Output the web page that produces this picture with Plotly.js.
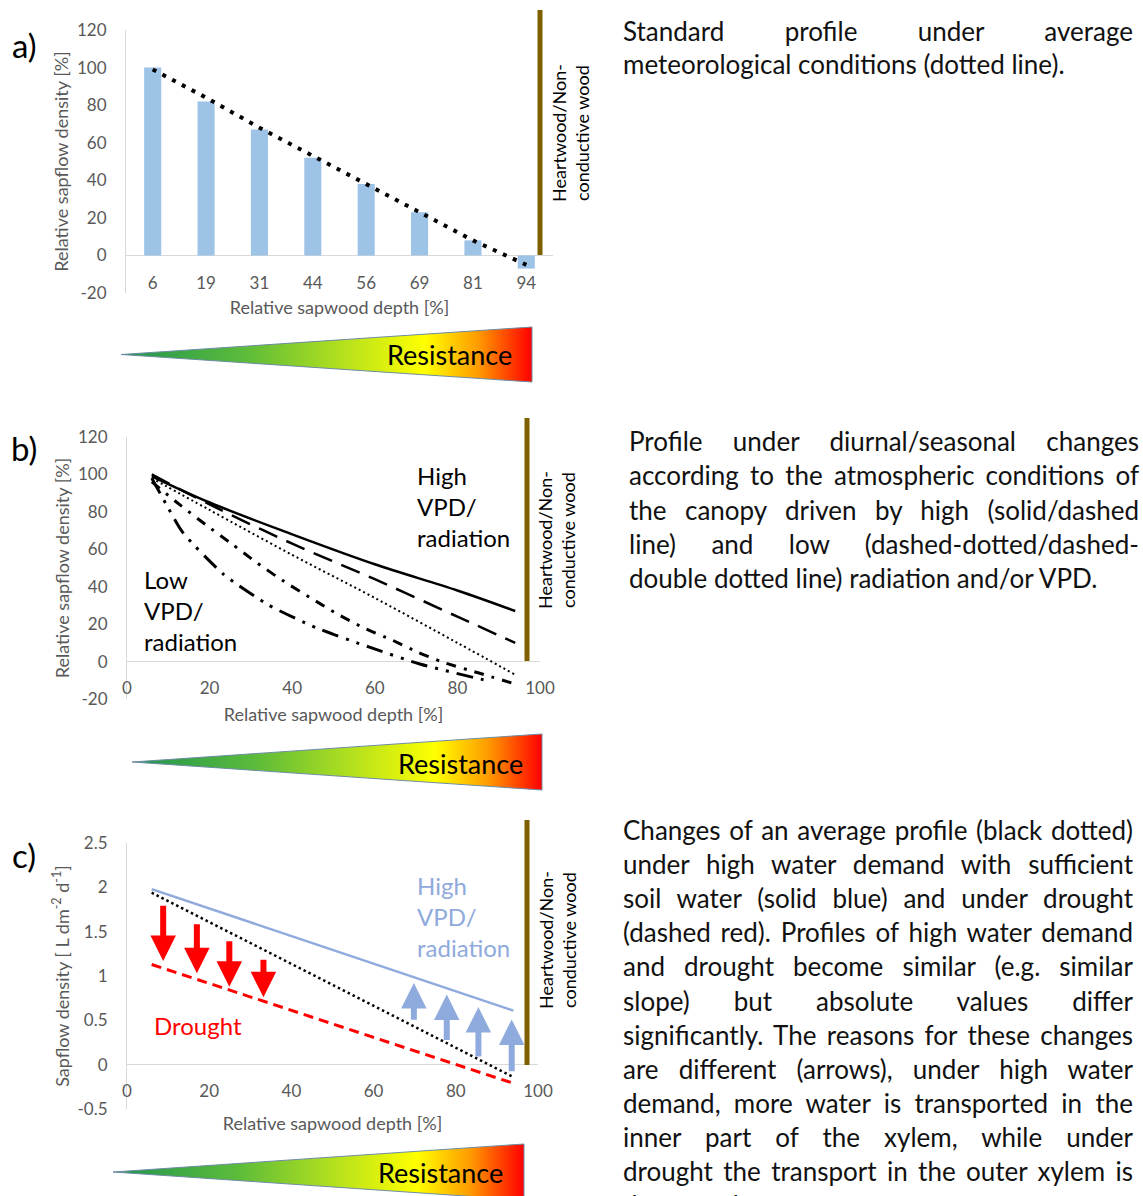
<!DOCTYPE html>
<html><head><meta charset="utf-8">
<script src="https://cdn.plot.ly/plotly-3.0.1.min.js"></script>
<style>
html,body{margin:0;padding:0;background:#fff;overflow:hidden;}
#wrap{position:relative;width:1143px;height:1196px;overflow:hidden;}
#chart{position:absolute;left:0;top:0;width:1143px;height:1196px;}
.ln{position:absolute;font-family:Lato,'Noto Sans',sans-serif;font-size:26px;color:#111;line-height:32px;height:32px;white-space:nowrap;}
.j{text-align:justify;text-align-last:justify;}
</style></head><body>
<div id="wrap"><div id="chart"></div><div id="txt"></div></div>
<script>
// ---------- DATA ----------
// Panel a
const depthCatsA = ['6','19','31','44','56','69','81','94'];
const barValuesA = [100, 82, 67, 52, 38, 23, 8, -7];
const dottedA    = [99, 84, 68, 53, 38, 23, 8, -5];
const yTickValsAB = [-20, 0, 20, 40, 60, 80, 100, 120];
const yTickTextAB = ['-20','0','20','40','60','80','100','120'];

// Panel b
const depthB_solid = [6, 20, 40, 60, 80, 94];
const solidB       = [99, 85, 68, 52, 38, 27];
const depthB_dash  = [6, 20, 40, 60, 80, 94];
const dashB        = [100, 84, 63, 44, 24, 10];
const depthB_dot   = [6, 20, 40, 60, 80, 94];
const dotB         = [98, 81, 57, 34, 10, -7];
const depthB_dd1   = [6, 12.9, 19.2, 25.6, 31.5, 37.9, 44.4, 50.8, 57.3, 64.1, 70.6, 76.6, 85, 94];
const dashDotB     = [96, 83.6, 72.9, 62.5, 52.7, 43, 34.1, 25.6, 18, 11.6, 4.8, -0.4, -6, -12];
const depthB_dd2   = [6, 10, 13.5, 23.4, 34.3, 45.9, 58.7, 70.9, 84.7, 87];
const dashDDotB    = [98, 82, 69, 46.6, 30.2, 18, 7.7, -1.3, -8.9, -10];
const xTickValsBC  = [0, 20, 40, 60, 80, 100];
const xTickTextBC  = ['0','20','40','60','80','100'];

// Panel c
const depthC   = [6, 94];
const blueC    = [1.98, 0.61];
const dottedC  = [1.94, -0.14];
const redC     = [1.13, -0.21];
const redArrowX    = [8.8, 17, 24.9, 33.2];
const redArrowFrom = [1.81, 1.60, 1.41, 1.20];
const redArrowTo   = [1.17, 1.03, 0.88, 0.76];
const blueArrowX    = [69.8, 77.8, 85.5, 93.6];
const blueArrowFrom = [0.49, 0.26, 0.075, -0.09];
const blueArrowTo   = [0.92, 0.79, 0.65, 0.51];
const yTickValsC = [-0.5, 0, 0.5, 1, 1.5, 2, 2.5];
const yTickTextC = ['-0.5','0','0.5','1','1.5','2','2.5'];

// Text paragraphs
const textA = ['Standard profile under average', 'meteorological conditions (dotted line).'];
const textB = ['Profile under diurnal/seasonal changes',
  'according to the atmospheric conditions of',
  'the canopy driven by high (solid/dashed',
  'line) and low (dashed-dotted/dashed-',
  'double dotted line) radiation and/or VPD.'];
const textC = ['Changes of an average profile (black dotted)',
  'under high water demand with sufficient',
  'soil water (solid blue) and  under drought',
  '(dashed red). Profiles of high water demand',
  'and drought become similar (e.g. similar',
  'slope) but absolute values differ',
  'significantly. The reasons for these changes',
  'are different (arrows), under high water',
  'demand, more water is transported in the',
  'inner part of the xylem, while under',
  'drought the transport in the outer xylem is',
  'decreased.'];

// ---------- LAYOUT HELPERS ----------
const W = 1143, H = 1196;
const px = x => x / W;
const py = y => 1 - y / H;
const FONT = 'Lato, "Noto Sans", sans-serif';
const GREY = '#595959';

const traces = [
  {type:'bar', x:depthCatsA, y:barValuesA, xaxis:'x', yaxis:'y', marker:{color:'#9dc3e6'}, hoverinfo:'skip'},
  {type:'scatter', mode:'lines', x:depthCatsA, y:dottedA, xaxis:'x', yaxis:'y', line:{color:'#000', width:4, dash:'4px,7px'}},

  {type:'scatter', mode:'lines', x:depthB_solid, y:solidB, xaxis:'x2', yaxis:'y2', line:{color:'#000', width:2.5, shape:'spline'}},
  {type:'scatter', mode:'lines', x:depthB_dash, y:dashB, xaxis:'x2', yaxis:'y2', line:{color:'#000', width:2.5, dash:'20px,10px', shape:'spline'}},
  {type:'scatter', mode:'lines', x:depthB_dot, y:dotB, xaxis:'x2', yaxis:'y2', line:{color:'#000', width:2, dash:'2px,3px', shape:'spline'}},
  {type:'scatter', mode:'lines', x:depthB_dd1, y:dashDotB, xaxis:'x2', yaxis:'y2', line:{color:'#000', width:3, dash:'10px,8px,3px,8px', shape:'spline', smoothing:0.6}},
  {type:'scatter', mode:'lines', x:depthB_dd2, y:dashDDotB, xaxis:'x2', yaxis:'y2', line:{color:'#000', width:3, dash:'17px,8px,3px,8px,3px,8px', shape:'spline', smoothing:0.6}},

  {type:'scatter', mode:'lines', x:depthC, y:blueC, xaxis:'x3', yaxis:'y3', line:{color:'#8faadc', width:2.5}},
  {type:'scatter', mode:'lines', x:depthC, y:dottedC, xaxis:'x3', yaxis:'y3', line:{color:'#000', width:2.5, dash:'2.5px,3px'}},
  {type:'scatter', mode:'lines', x:depthC, y:redC, xaxis:'x3', yaxis:'y3', line:{color:'#ff0000', width:3, dash:'10px,6px'}}
];

function yAxis(domTop, domBot, range, tv, tt, title, anchor){
  return {domain:[py(domBot), py(domTop)], range:range, anchor:anchor,
    tickvals:tv, ticktext:tt, ticks:'', ticklabelstandoff:15,
    tickfont:{family:FONT, size:17, color:GREY},
    showline:true, linecolor:'#d9d9d9', linewidth:1,
    zeroline:true, zerolinecolor:'#d9d9d9', zerolinewidth:1, showgrid:false,
    title:{text:title, font:{family:FONT, size:18, color:GREY}, standoff:3},
    automargin:false, fixedrange:true};
}
function xAxisFree(l, r, pos, standoff, extra){
  return Object.assign({domain:[px(l), px(r)], anchor:'free', position:py(pos),
    ticks:'', showline:false, zeroline:false, showgrid:false,
    tickfont:{family:FONT, size:17, color:GREY},
    title:{text:'Relative sapwood depth [%]', font:{family:FONT, size:18, color:GREY}, standoff:standoff},
    automargin:false, fixedrange:true}, extra);
}

const annotations = [];
function ann(text, x, y, size, color, opts){
  annotations.push(Object.assign({xref:'paper', yref:'paper', x:px(x), y:py(y), text:text,
    showarrow:false, font:{family:FONT, size:size, color:color}, xanchor:'center', yanchor:'middle'}, opts||{}));
}
ann('a)', 24, 45, 33, '#000');
ann('b)', 24, 448, 33, '#000');
ann('c)', 24, 855, 33, '#000');
ann('Heartwood/Non-<br>conductive wood', 571, 133, 18, '#000', {textangle:-90});
ann('Heartwood/Non-<br>conductive wood', 557, 540, 18, '#000', {textangle:-90});
ann('Heartwood/Non-<br>conductive wood', 557, 940, 18, '#000', {textangle:-90});
ann('High<br>VPD/<br>radiation', 415, 506, 24, '#000', {xanchor:'left', align:'left'});
ann('Low<br>VPD/<br>radiation', 142, 610, 24, '#000', {xanchor:'left', align:'left'});
ann('High<br>VPD/<br>radiation', 415, 916, 24, '#8faadc', {xanchor:'left', align:'left'});
ann('Drought', 152, 1025, 24, '#ff0000', {xanchor:'left'});
ann('Resistance', 449, 354, 27, '#000');
ann('Resistance', 460, 763, 27, '#000');
ann('Resistance', 440, 1172, 27, '#000');

for (let i = 0; i < redArrowX.length; i++) {
  annotations.push({xref:'x3', yref:'y3', axref:'x3', ayref:'y3', x:redArrowX[i], y:redArrowTo[i],
    ax:redArrowX[i], ay:redArrowFrom[i], text:'', showarrow:true, arrowhead:2, arrowsize:0.85, arrowwidth:6, arrowcolor:'#ff0000'});
}
for (let i = 0; i < blueArrowX.length; i++) {
  annotations.push({xref:'x3', yref:'y3', axref:'x3', ayref:'y3', x:blueArrowX[i], y:blueArrowTo[i],
    ax:blueArrowX[i], ay:blueArrowFrom[i], text:'', showarrow:true, arrowhead:2, arrowsize:0.85, arrowwidth:6, arrowcolor:'#8faadc'});
}

const shapes = [
  {type:'line', xref:'paper', yref:'paper', x0:px(540), x1:px(540), y0:py(10), y1:py(255), line:{color:'#7f6000', width:5}},
  {type:'line', xref:'paper', yref:'paper', x0:px(527), x1:px(527), y0:py(418), y1:py(661), line:{color:'#7f6000', width:5}},
  {type:'line', xref:'paper', yref:'paper', x0:px(527), x1:px(527), y0:py(820), y1:py(1065), line:{color:'#7f6000', width:5}}
];

function triSVG(w, h){
  const s = '<svg xmlns="http://www.w3.org/2000/svg" width="'+w+'" height="'+h+'" viewBox="0 0 '+w+' '+h+'" preserveAspectRatio="none">'+
    '<defs><linearGradient id="g" x1="0" y1="0" x2="1" y2="0">'+
    '<stop offset="0" stop-color="#1f9450"/><stop offset="0.3" stop-color="#5bbb3a"/>'+
    '<stop offset="0.55" stop-color="#b8e21c"/><stop offset="0.74" stop-color="#ffff00"/>'+
    '<stop offset="0.87" stop-color="#ff9a00"/><stop offset="1" stop-color="#ff0000"/></linearGradient></defs>'+
    '<polygon points="1,'+(h/2)+' '+(w-1)+',1 '+(w-1)+','+(h-1)+'" fill="url(#g)" stroke="#6d8ca3" stroke-width="1"/></svg>';
  return 'data:image/svg+xml;charset=utf-8,' + encodeURIComponent(s);
}
function triImg(l, r, t, b){
  return {source:triSVG(r-l, b-t), xref:'paper', yref:'paper', x:px(l), y:py(t),
    sizex:(r-l)/W, sizey:(b-t)/H, xanchor:'left', yanchor:'top', sizing:'stretch', layer:'below'};
}
const images = [triImg(120, 533, 326, 383), triImg(131, 543, 733, 791), triImg(112, 525, 1143, 1201)];

const layout = {
  width:W, height:H, margin:{l:0, r:0, t:0, b:0, autoexpand:false},
  paper_bgcolor:'#fff', plot_bgcolor:'rgba(0,0,0,0)', showlegend:false,
  bargap:0.68, font:{family:FONT},
  xaxis: xAxisFree(126, 553, 271, 9, {type:'category'}),
  yaxis: yAxis(30, 293, [-20,120], yTickValsAB, yTickTextAB, 'Relative sapflow density [%]', 'x'),
  xaxis2: xAxisFree(127, 540, 676, 11, {range:[0,100], tickvals:xTickValsBC, ticktext:xTickTextBC}),
  yaxis2: yAxis(437, 699, [-20,120], yTickValsAB, yTickTextAB, 'Relative sapflow density [%]', 'x2'),
  xaxis3: xAxisFree(127, 538, 1079, 17, {range:[0,100], tickvals:xTickValsBC, ticktext:xTickTextBC}),
  yaxis3: yAxis(843, 1109, [-0.5,2.5], yTickValsC, yTickTextC, 'Sapflow density [ L dm<sup>-2</sup> d<sup>-1</sup>]', 'x3'),
  annotations:annotations, shapes:shapes, images:images
};

Plotly.newPlot('chart', traces, layout, {staticPlot:true, displayModeBar:false});

// ---------- paragraph text (justified lines) ----------
const txt = document.getElementById('txt');
function para(lines, x, w, y0, dy){
  lines.forEach((t, i) => {
    const d = document.createElement('div');
    d.className = 'ln' + (i < lines.length - 1 ? ' j' : '');
    d.style.left = x + 'px';
    d.style.width = w + 'px';
    d.style.top = (y0 + i*dy - 16) + 'px';
    d.textContent = t;
    txt.appendChild(d);
  });
}
para(textA, 623, 510, 31, 33);
para(textB, 629, 510, 441, 34.3);
para(textC, 623, 510, 830, 34.1);
</script>
</body></html>
